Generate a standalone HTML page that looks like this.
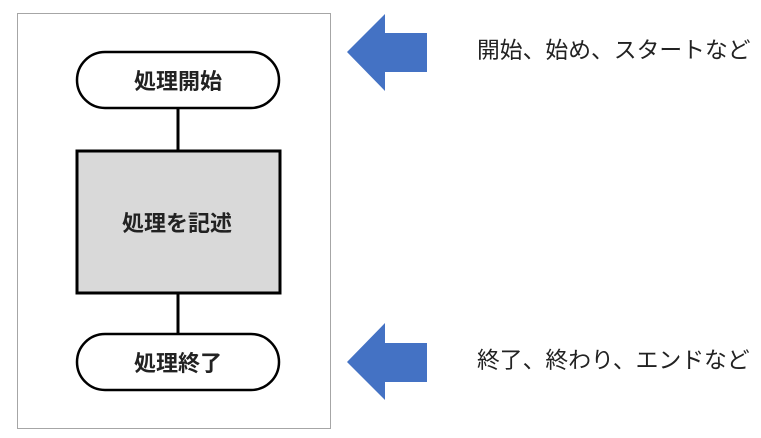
<!DOCTYPE html>
<html><head><meta charset="utf-8"><style>
html,body{margin:0;padding:0;background:#fff;width:761px;height:438px;overflow:hidden}
svg{display:block}
</style></head><body>
<svg width="761" height="438" xmlns="http://www.w3.org/2000/svg">
<rect x="17.5" y="13.5" width="313" height="415" fill="#fff" stroke="#a6a6a6" stroke-width="1"/>
<line x1="178" y1="108" x2="178" y2="150" stroke="#000" stroke-width="3"/>
<line x1="178" y1="293" x2="178" y2="334" stroke="#000" stroke-width="3"/>
<rect x="77" y="52" width="202" height="56" rx="28" fill="#fff" stroke="#000" stroke-width="2.5"/>
<rect x="77" y="151" width="203" height="142" fill="#d9d9d9" stroke="#000" stroke-width="3"/>
<rect x="77" y="334" width="202" height="56" rx="28" fill="#fff" stroke="#000" stroke-width="2.5"/>
<g font-family="'Liberation Sans','Noto Sans CJK JP',sans-serif" font-size="22" font-weight="bold" fill="#222" text-anchor="middle">
<text x="178" y="89">処理開始</text>
<text x="177" y="231">処理を記述</text>
<text x="178" y="371">処理終了</text>
</g>
<polygon points="347,52 385,14 385,33 427,33 427,72 385,72 385,91" fill="#4472c4"/>
<polygon points="347,362 385,323 385,343 427,343 427,382 385,382 385,400" fill="#4472c4"/>
<g font-family="'Liberation Sans','Noto Sans CJK JP',sans-serif" font-size="22.8" fill="#222">
<text x="477" y="58">開始、始め、スタートなど</text>
<text x="477" y="368">終了、終わり、エンドなど</text>
</g>
</svg>
</body></html>
